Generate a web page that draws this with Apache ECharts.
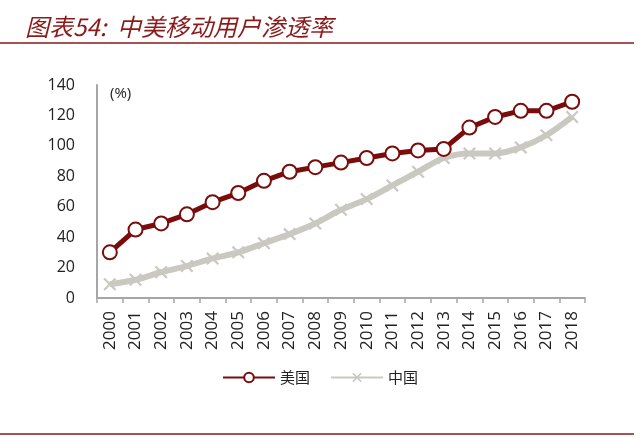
<!DOCTYPE html>
<html lang="zh">
<head>
	<meta charset="UTF-8">
	<title>中美移动用户渗透率</title>
	<script src="https://cdn.jsdelivr.net/npm/echarts@6/dist/echarts.min.js"></script>
<style type="text/css">
	html,body{
		margin: 0;
		padding: 0;
		background-color: #FFFFFF;
	}
	#chart{
		width: 640px;
		height: 438px;
	}
</style>
</head>
<body>
	<div id="chart"></div>
	<script>
	// 数据
	var years = ['2000','2001','2002','2003','2004','2005','2006','2007','2008','2009',
		'2010','2011','2012','2013','2014','2015','2016','2017','2018'];
	var usValues = [30, 45, 49, 55, 63, 69, 77, 83, 86, 89, 92, 95, 97, 98, 112, 119, 123, 123, 129];
	var cnValues = [9, 12, 17, 21, 26, 30, 36, 42, 49, 58, 65, 74, 83, 92, 95, 95, 99, 107, 119];
	var yTicks = [0, 20, 40, 60, 80, 100, 120, 140];

	var red = '#7a0c0c';
	var gray = '#c9c9c1';
	var cross = 'path://M0,1.2L1.2,0L5,3.8L8.8,0L10,1.2L6.2,5L10,8.8L8.8,10L5,6.2L1.2,10L0,8.8L3.8,5Z';

	var chart = echarts.init(document.getElementById('chart'));
	var option = {
		animation: false,
		title: {
			text: '图表54:  中美移动用户渗透率',
			left: 20,
			top: 10,
			textStyle: {
				color: '#8b1a1a',
				fontStyle: 'italic',
				fontWeight: 'normal',
				fontSize: 24,
				fontFamily: 'Noto Sans CJK SC'
			}
		},
		graphic: [
			{type: 'line', shape: {x1: 0, y1: 43, x2: 634, y2: 43}, style: {stroke: '#8b1a1a', lineWidth: 1.5}},
			{type: 'line', shape: {x1: 0, y1: 434, x2: 634, y2: 434}, style: {stroke: '#8b1a1a', lineWidth: 1.5}},
			{type: 'text', left: 110, top: 86, style: {text: '(%)', fontSize: 15, fill: '#222', fontFamily: 'Open Sans'}}
		],
		legend: {
			bottom: 48,
			left: 'center',
			itemWidth: 52,
			itemHeight: 12,
			itemGap: 20,
			textStyle: {fontSize: 15, color: '#222', fontFamily: 'Noto Sans CJK SC'},
			data: ['美国', '中国']
		},
		grid: {
			left: 97,
			right: 55,
			top: 85,
			bottom: 140
		},
		xAxis: {
			type: 'category',
			data: years,
			boundaryGap: true,
			axisLine: {lineStyle: {color: '#a6a6a6', width: 2}},
			axisTick: {show: true, length: 5, lineStyle: {color: '#a6a6a6', width: 1.5}},
			axisLabel: {rotate: 90, fontSize: 17, color: '#222', margin: 13, fontFamily: 'Open Sans'}
		},
		yAxis: {
			type: 'value',
			min: yTicks[0],
			max: yTicks[yTicks.length - 1],
			interval: 20,
			axisLine: {show: true, lineStyle: {color: '#a6a6a6', width: 2}},
			axisTick: {show: false},
			splitLine: {show: false},
			axisLabel: {fontSize: 16, color: '#222', margin: 22, fontFamily: 'Open Sans'}
		},
		series: [
			{
				name: '美国',
				type: 'line',
				data: usValues,
				symbol: 'circle',
				symbolSize: 14,
				lineStyle: {color: red, width: 5},
				itemStyle: {color: '#ffffff', borderColor: red, borderWidth: 2},
				z: 3
			},
			{
				name: '中国',
				type: 'line',
				data: cnValues,
				smooth: 0.3,
				symbol: cross,
				symbolSize: 13,
				lineStyle: {color: gray, width: 6},
				itemStyle: {color: gray},
				z: 2
			}
		]
	};
	chart.setOption(option);
	</script>
</body>
</html>
